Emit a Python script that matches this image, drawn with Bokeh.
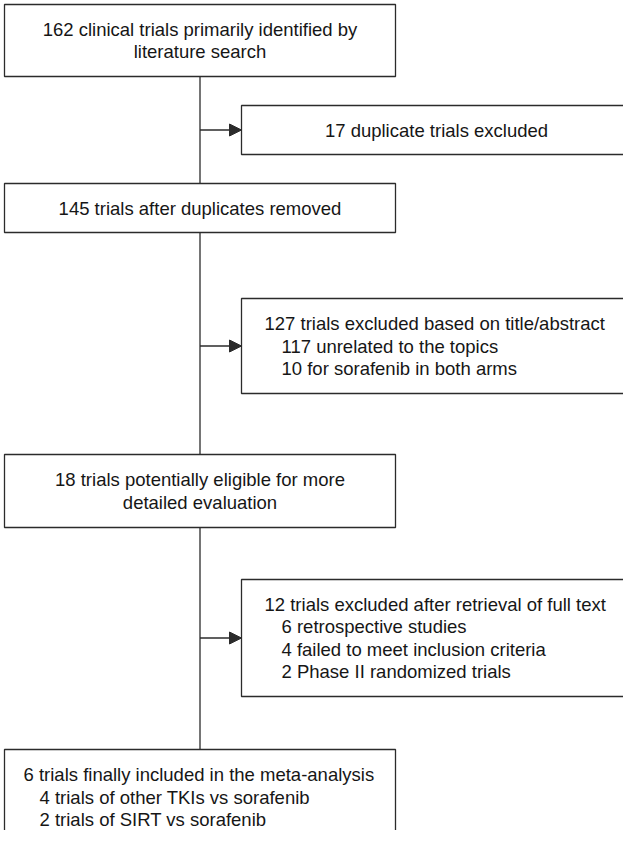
from bokeh.plotting import figure
from bokeh.models import Range1d, Arrow, NormalHead, ColumnDataSource
from bokeh.embed import file_html
from bokeh.resources import INLINE
from bokeh.core.properties import value

# ---- content (texts of the flow diagram) ----
main_steps = [
    ["162 clinical trials primarily identified by", "literature search"],
    ["145 trials after duplicates removed"],
    ["18 trials potentially eligible for more", "detailed evaluation"],
]
final_head = "6 trials finally included in the meta-analysis"
final_items = ["4 trials of other TKIs vs sorafenib", "2 trials of SIRT vs sorafenib"]
excl_heads = [
    "17 duplicate trials excluded",
    "127 trials excluded based on title/abstract",
    "12 trials excluded after retrieval of full text",
]
excl_items = [
    [],
    ["117 unrelated to the topics", "10 for sorafenib in both arms"],
    ["6 retrospective studies", "4 failed to meet inclusion criteria", "2 Phase II randomized trials"],
]

# ---- layout (page pixel coordinates) ----
MAIN_X = (12, 403)
EXCL_X = (249, 660)
main_y = [(12, 84), (191, 240), (462, 535)]
final_y = (757, 880)
excl_y = [(113, 162), (306, 401), (587, 704)]
LS = 22.6
FONT = value("Liberation Sans")
FSIZE = "18.5px"
LINE_C = "#2b2b2b"
TEXT_C = "#161616"

W, H = 623, 830
p = figure(width=W, height=H, x_range=Range1d(8, 8 + W), y_range=Range1d(8 + H, 8),
           output_backend="svg", toolbar_location=None, x_axis_type=None, y_axis_type=None,
           min_border=0)
p.grid.visible = False
p.outline_line_color = None
p.background_fill_color = "white"

cx = (MAIN_X[0] + MAIN_X[1]) / 2

# vertical trunk
trunk_y0 = [main_y[0][1], main_y[1][1], main_y[2][1]]
trunk_y1 = [main_y[1][0], main_y[2][0], final_y[0]]
p.segment(x0=[cx] * 3, y0=trunk_y0, x1=[cx] * 3, y1=trunk_y1, line_color=LINE_C, line_width=1.3)

# main boxes
all_main = main_y + [final_y]
p.quad(left=[MAIN_X[0]] * 4, right=[MAIN_X[1]] * 4,
       top=[a for a, b in all_main], bottom=[b for a, b in all_main],
       fill_color="white", line_color=LINE_C, line_width=1.3)
# exclusion boxes
p.quad(left=[EXCL_X[0]] * 3, right=[EXCL_X[1]] * 3,
       top=[a for a, b in excl_y], bottom=[b for a, b in excl_y],
       fill_color="white", line_color=LINE_C, line_width=1.3)

# arrows
for (a, b) in excl_y:
    ym = (a + b) / 2
    p.add_layout(Arrow(end=NormalHead(size=12, fill_color=LINE_C, line_color=LINE_C, line_width=1),
                       x_start=cx, y_start=ym, x_end=EXCL_X[0], y_end=ym,
                       line_color=LINE_C, line_width=1.3))

# centred texts in main boxes
tx, ty, tt = [], [], []
for lines, (a, b) in zip(main_steps, main_y):
    m = (a + b) / 2
    n = len(lines)
    for i, s in enumerate(lines):
        tx.append(cx)
        ty.append(m + (i - (n - 1) / 2) * LS)
        tt.append(s)
p.text(x=tx, y=ty, text=tt, text_align="center", text_baseline="middle",
       text_font=FONT, text_font_size=FSIZE, text_color=TEXT_C)

# exclusion boxes texts
ex_vis_right = 639
ccx, ccy, cct = [], [], []
lx, ly, lt = [], [], []
for head, items, (a, b) in zip(excl_heads, excl_items, excl_y):
    m = (a + b) / 2
    if not items:
        ccx.append((EXCL_X[0] + ex_vis_right) / 2)
        ccy.append(m)
        cct.append(head)
    else:
        lines = [head] + items
        n = len(lines)
        for i, s in enumerate(lines):
            lx.append(272 if i == 0 else 289)
            ly.append(m + (i - (n - 1) / 2) * LS)
            lt.append(s)
p.text(x=ccx, y=ccy, text=cct, text_align="center", text_baseline="middle",
       text_font=FONT, text_font_size=FSIZE, text_color=TEXT_C)

# final box
flines = [final_head] + final_items
for i, s in enumerate(flines):
    lx.append(31 if i == 0 else 47)
    ly.append(final_y[0] + 25 + i * LS)
    lt.append(s)
p.text(x=lx, y=ly, text=lt, text_align="left", text_baseline="middle",
       text_font=FONT, text_font_size=FSIZE, text_color=TEXT_C)

open("out.html", "w").write(file_html(p, INLINE))
